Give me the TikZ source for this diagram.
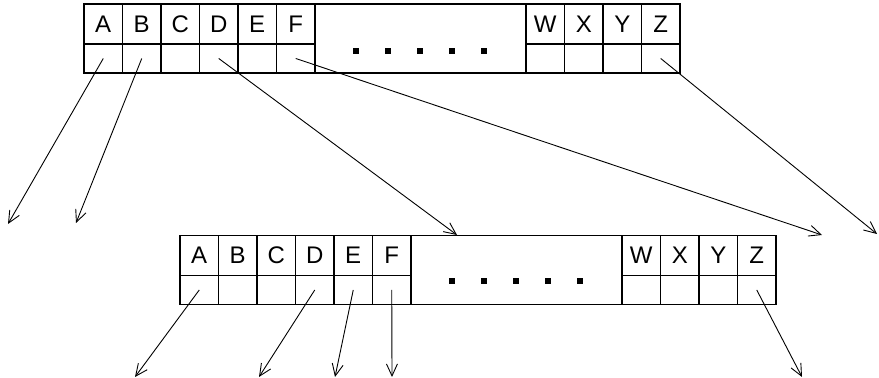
\documentclass[tikz,border=0pt]{standalone}
\usepackage{fontspec}
\setmainfont{Liberation Sans}
\usetikzlibrary{arrows.meta}
\tikzset{
  key/.style={draw,line width=0.7pt,minimum width=19.25pt,minimum height=20pt,inner sep=0pt,font=\fontsize{12}{14}\selectfont},
  ptr/.style={draw,line width=0.7pt,minimum width=19.25pt,minimum height=14.5pt,inner sep=0pt},
  gap/.style={draw,line width=0.7pt,minimum width=105.5pt,minimum height=34.5pt,inner sep=0pt},
  dot/.style={fill,minimum size=3pt,inner sep=0pt},
  link/.style={-{Straight Barb[length=6pt,width=5.5pt]},line width=0.45pt}
}
\begin{document}
\begin{tikzpicture}[x=0.5pt,y=-0.5pt]
\useasboundingbox (0,0) rectangle (879,378);
% upper table
\foreach \c [count=\i from 0] in {A,B,C,D,E,F}{
  \node[key] (tk\c) at ({103.25+38.5*\i},24) {\c};
  \node[ptr] (tp\c) at ({103.25+38.5*\i},58.5) {};
}
\node[gap] (tgap) at (420.5,38.5) {};
\foreach \k in {0,...,4} \node[dot] (td\k) at ({356+32*\k},51) {};
\foreach \c [count=\i from 0] in {W,X,Y,Z}{
  \node[key] (tk\c) at ({545.25+38.5*\i},24) {\c};
  \node[ptr] (tp\c) at ({545.25+38.5*\i},58.5) {};
}
% lower table
\foreach \c [count=\i from 0] in {A,B,C,D,E,F}{
  \node[key] (bk\c) at ({199.25+38.5*\i},255.5) {\c};
  \node[ptr] (bp\c) at ({199.25+38.5*\i},290) {};
}
\node[gap] (bgap) at (516.5,270) {};
\foreach \k in {0,...,4} \node[dot] (bd\k) at ({452+32*\k},281) {};
\foreach \c [count=\i from 0] in {W,X,Y,Z}{
  \node[key] (bk\c) at ({641.25+38.5*\i},255.5) {\c};
  \node[ptr] (bp\c) at ({641.25+38.5*\i},290) {};
}
% pointer ends
\coordinate (tA) at (8,224);   \coordinate (tB) at (76,223);
\coordinate (tD) at (457,235); \coordinate (tF) at (822,235);
\coordinate (tZ) at (877,234);
\coordinate (bA) at (135,377); \coordinate (bD) at (259,377);
\coordinate (bE) at (335,377); \coordinate (bF) at (392,377);
\coordinate (bZ) at (802,377);
\foreach \c in {A,B,D,F,Z} \draw[link] (tp\c.center) -- (t\c);
\foreach \c in {A,D,E,F,Z} \draw[link] (bp\c.center) -- (b\c);
\end{tikzpicture}
\end{document}
